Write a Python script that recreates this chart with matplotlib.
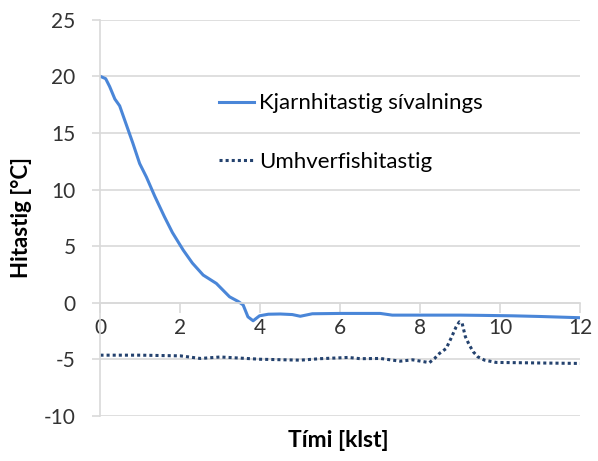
import matplotlib.pyplot as plt

# core temperature of the cylinder
t_core = [0, 0.13, 0.23, 0.36, 0.48, 0.6, 0.81, 0.98, 1.15, 1.36, 1.6, 1.8, 2.07,
          2.3, 2.57, 2.9, 3.23, 3.45, 3.57, 3.69, 3.82, 3.98, 4.2, 4.5, 4.8, 5.0,
          5.3, 6.0, 7.0, 7.3, 8.0, 9.0, 9.5, 10.3, 11.0, 12.0]
T_core = [20.0, 19.8, 19.1, 18.0, 17.4, 16.2, 14.1, 12.3, 11.1, 9.4, 7.6, 6.2, 4.65,
          3.5, 2.44, 1.7, 0.52, 0.1, -0.2, -1.25, -1.6, -1.16, -1.02, -1.0, -1.05, -1.2,
          -0.98, -0.95, -0.95, -1.1, -1.1, -1.1, -1.12, -1.16, -1.22, -1.33]

# ambient temperature
t_amb = [0, 1.0, 2.0, 2.5, 3.0, 4.0, 5.0, 5.5, 6.2, 6.5, 7.0, 7.5, 7.81, 8.23,
         8.36, 8.48, 8.65, 8.77, 8.9, 8.98, 9.05, 9.13, 9.23, 9.33, 9.44, 9.61,
         9.9, 11.0, 12.0]
T_amb = [-4.64, -4.64, -4.7, -4.93, -4.8, -5.0, -5.08, -4.95, -4.84, -4.95, -4.93,
         -5.17, -5.05, -5.3, -4.93, -4.49, -4.05, -3.16, -2.13, -1.69, -1.83, -3.0,
         -3.75, -4.35, -4.78, -5.08, -5.28, -5.33, -5.37]

plt.rcParams['font.family'] = ['Lato', 'DejaVu Sans']
plt.rcParams['axes.unicode_minus'] = False

fig = plt.figure(figsize=(5.98, 4.61), dpi=100)
ax = fig.add_axes([0.168, 0.098, 0.802, 0.859])

grid_c = '#d9d9d9'
ax.plot(t_core, T_core, color='#4a86d8', lw=2.2, label='Kjarnhitastig sívalnings')
ax.plot(t_amb, T_amb, color='#24426e', lw=2.2, linestyle=(0, (1, 1.0)),
        label='Umhverfishitastig')

ax.set_xlim(0, 12)
ax.set_ylim(-10, 25)
ax.set_yticks(range(-10, 30, 5))
ax.set_xticks(range(0, 14, 2))
ax.yaxis.grid(True, color=grid_c, lw=1.2)
ax.set_axisbelow(True)

for s in ['top', 'right', 'bottom']:
    ax.spines[s].set_visible(False)
ax.spines['left'].set_color(grid_c)
ax.spines['left'].set_linewidth(1.2)
ax.spines['bottom'].set_visible(True)
ax.spines['bottom'].set_position(('data', 0))
ax.spines['bottom'].set_color(grid_c)
ax.spines['bottom'].set_linewidth(1.2)

ax.tick_params(axis='y', length=6, color=grid_c, width=1.2, labelsize=15,
               labelcolor='#333333', pad=12)
ax.tick_params(axis='x', length=7, color=grid_c, width=1.2, labelsize=15,
               labelcolor='#333333', pad=4)

ax.set_ylabel('Hitastig [°C]', fontsize=16, fontweight='bold', labelpad=8)
fig.text(0.5652, 0.045, 'Tími [klst]', fontsize=16.5, fontweight='bold',
         ha='center', va='center')

ax.legend(loc='upper left', bbox_to_anchor=(0.205, 0.865), frameon=False,
          fontsize=16, handlelength=1.6, handletextpad=0.2, labelspacing=1.75)

fig.savefig('out.png', dpi=100)
